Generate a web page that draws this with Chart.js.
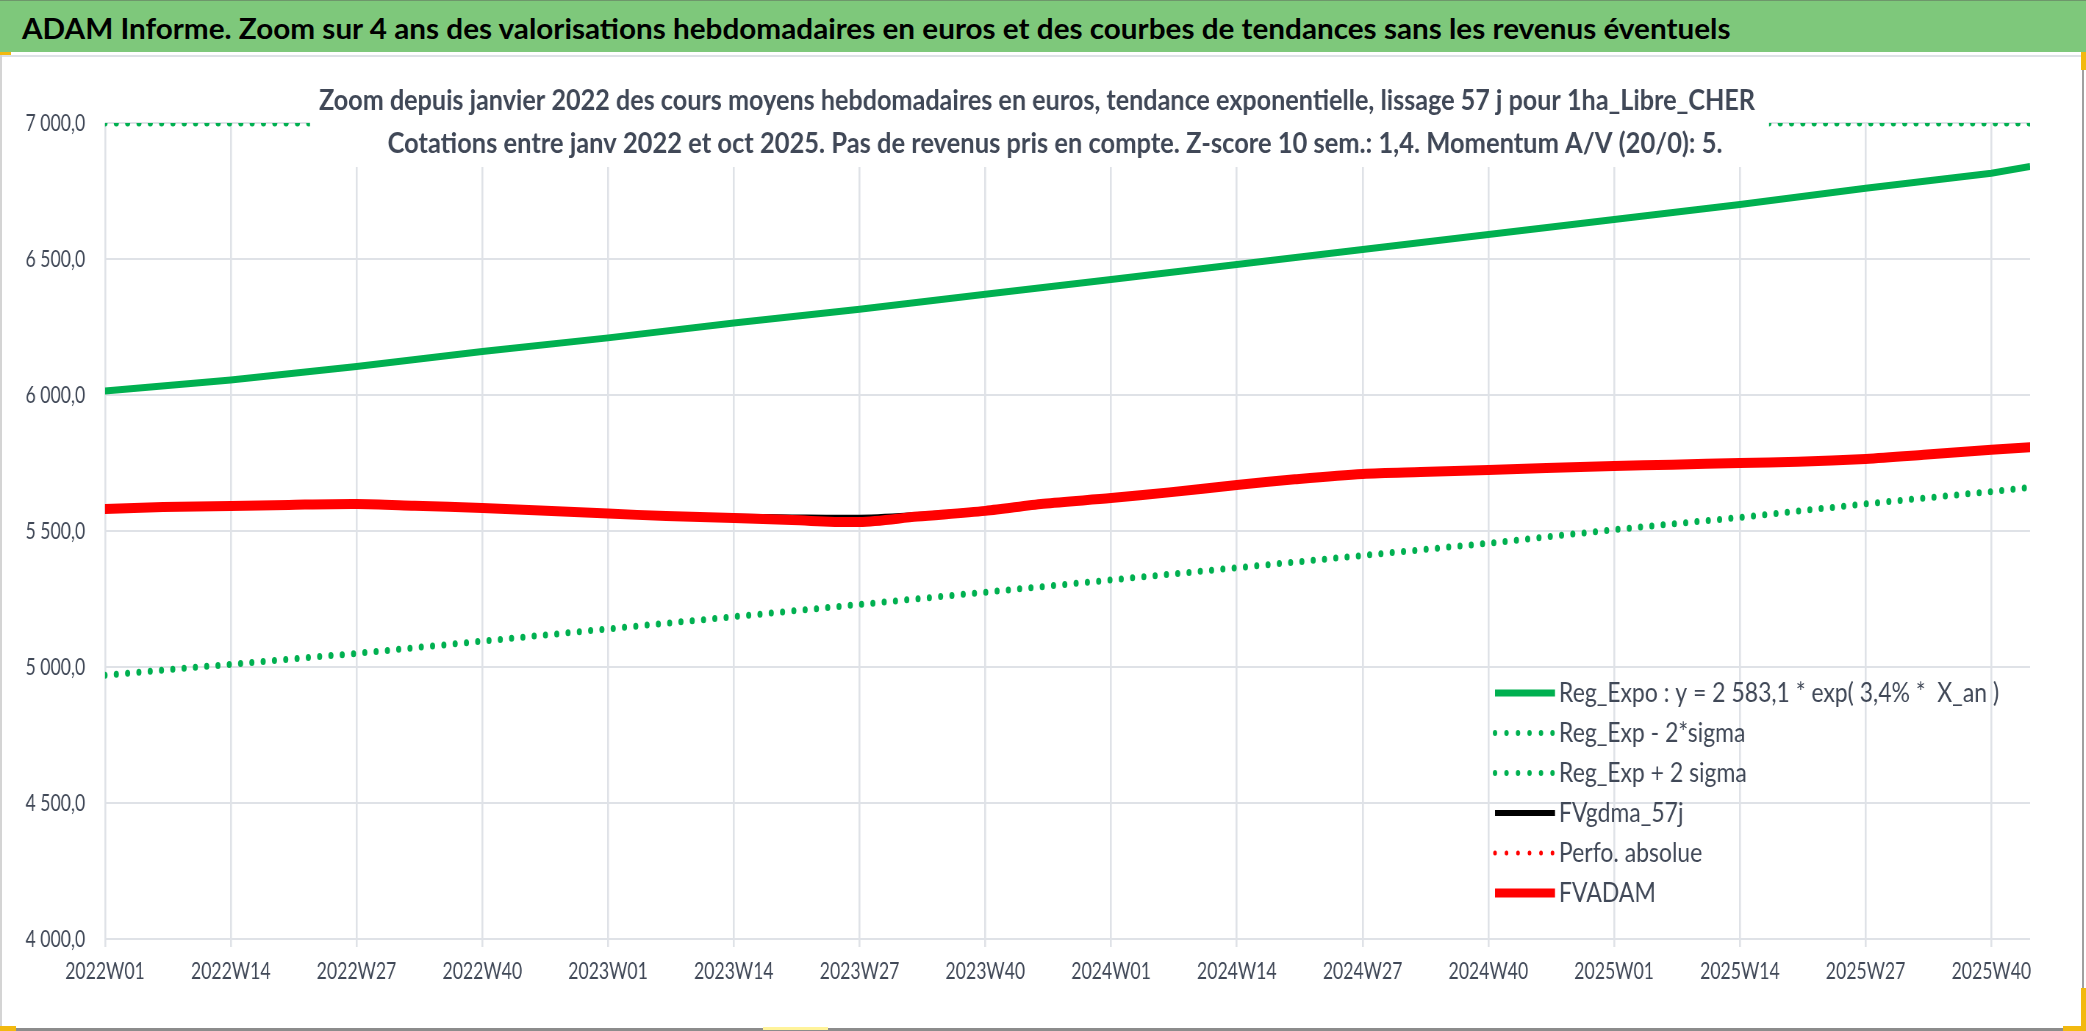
<!DOCTYPE html>
<html>
<head>
<meta charset="utf-8">
<script src="https://cdn.jsdelivr.net/npm/chart.js@4.4.1/dist/chart.umd.min.js"></script>
<style>
  html, body { margin: 0; padding: 0; background: #fff; overflow: hidden; }
  #page { position: relative; width: 2086px; height: 1031px; overflow: hidden; background: #fff; }
  #head { position: absolute; left: 0; top: 0; width: 2086px; height: 52px; background: #7ec87b; border-top: 1px solid #6e966b; box-sizing: border-box; }
  #head span { position: absolute; left: 22px; top: 27px; transform-origin: 0 50%; font: bold 28px Lato, sans-serif; color: #000; white-space: nowrap; line-height: 1; }
  #sep { position: absolute; left: 0; top: 55px; width: 2083px; height: 2px; background: #dde1e6; }
  #wrap { position: absolute; left: 0; top: 58px; width: 2834px; height: 968px; transform: scaleX(0.735); transform-origin: 0 0; }
  .b { position: absolute; }
</style>
</head>
<body>
<div id="page">
  <div id="head"><span id="headText">ADAM Informe. Zoom sur 4 ans des valorisations hebdomadaires en euros et des courbes de tendances sans les revenus éventuels</span></div>
  <div id="sep"></div>
  <div id="wrap"><canvas id="chart" width="2834" height="968"></canvas></div>
  <div class="b" style="left:0;top:52px;width:2px;height:979px;background:#d4d4d4"></div>
  <div class="b" style="left:2082px;top:52px;width:2px;height:979px;background:#a0a0a0"></div>
  <div class="b" style="left:0;top:1028px;width:2086px;height:3px;background:#8c8c8c"></div>
  <div class="b" style="left:0;top:52px;width:11px;height:3px;background:#f2b90f"></div>
  <div class="b" style="left:2081px;top:52px;width:5px;height:18px;background:#f2b90f"></div>
  <div class="b" style="left:2081px;top:988px;width:5px;height:43px;background:#f2b90f"></div>
  <div class="b" style="left:2063px;top:1026px;width:23px;height:5px;background:#f2b90f"></div>
  <div class="b" style="left:0;top:1026px;width:16px;height:5px;background:#f2b90f"></div>
  <div class="b" style="left:763px;top:1027px;width:65px;height:3px;background:#fff39a"></div>
</div>
<script>
// horizontal squeeze of the whole Excel picture
const S = 0.735;

// weeks counted from 2022W01 (index 0)
const weekYears = [2022, 2023, 2024, 2025];
const weeksPerYear = 52;
const xTickWeeks = [0, 13, 26, 39, 52, 65, 78, 91, 104, 117, 130, 143, 156, 169, 182, 195];
const lastWeek = 199;

// trend lines, read at every 13 weeks
const trendWeeks = [0, 13, 26, 39, 52, 65, 78, 91, 104, 117, 130, 143, 156, 169, 182, 195, 199];
const regExpo = [6015, 6055, 6105, 6160, 6210, 6265, 6315, 6370, 6425, 6480, 6535, 6590, 6645, 6700, 6760, 6815, 6840];
const regMinus = [4970, 5010, 5050, 5095, 5140, 5185, 5230, 5275, 5320, 5365, 5410, 5455, 5505, 5550, 5600, 5645, 5660];
const regPlus = [7000, 7000, 7000, 7000, 7000, 7000, 7000, 7000, 7000, 7000, 7000, 7000, 7000, 7000, 7000, 7000, 7000];

// smoothed values, read about every 6 weeks
const fvWeeks = [0, 6, 13, 19, 26, 32, 39, 45, 52, 58, 65, 71, 78, 84, 91, 97, 104, 110, 117, 123, 130, 136, 143, 149, 156, 162, 169, 175, 182, 188, 195, 199];
const fvAdam = [5581, 5588, 5592, 5596, 5599, 5593, 5585, 5575, 5564, 5555, 5548, 5540, 5533, 5553, 5574, 5600, 5621, 5642, 5669, 5690, 5710, 5717, 5724, 5732, 5739, 5744, 5750, 5755, 5765, 5780, 5799, 5808];
const fvGdma = [5581, 5588, 5592, 5596, 5599, 5593, 5585, 5575, 5564, 5557, 5551, 5548, 5547, 5557, 5576, 5600, 5621, 5642, 5669, 5690, 5710, 5717, 5724, 5732, 5739, 5744, 5750, 5755, 5765, 5780, 5799, 5808];
const perfoAbs = [];

const yTicks = [4000, 4500, 5000, 5500, 6000, 6500, 7000];

const titleLines = [
  'Zoom depuis janvier 2022 des cours moyens hebdomadaires en euros, tendance exponentielle, lissage 57 j pour 1ha_Libre_CHER',
  'Cotations entre janv 2022 et oct 2025. Pas de revenus pris en compte. Z-score 10 sem.: 1,4. Momentum A/V (20/0): 5.'
];

const GREEN = '#00b050';
const RED = '#ff0000';
const TEXT = '#404857';
const FONT = 'Lato, "Open Sans", sans-serif';
const DOT = [0, 15.4];

function weekLabel(i) {
  const y = weekYears[Math.floor(i / weeksPerYear)];
  const w = (i % weeksPerYear) + 1;
  return y + 'W' + String(w).padStart(2, '0');
}

function frNum(v) {
  const p = v.toFixed(1).split('.');
  return p[0].replace(/\B(?=(\d{3})+(?!\d))/g, ' ') + ',' + p[1];
}

function pts(xs, ys) {
  return ys.map((y, i) => ({ x: xs[i], y: y }));
}

// header: fit text to its width in the picture
const head = document.getElementById('headText');
head.style.transform = 'translateY(-50%) scaleX(' + (1708 / head.offsetWidth) + ')';

const titlePlugin = {
  id: 'titleBox',
  afterDatasetsDraw(chart) {
    const ctx = chart.ctx;
    ctx.save();
    ctx.fillStyle = '#ffffff';
    ctx.fillRect(310 / S, 0, (1769 - 310) / S, 109);
    ctx.fillStyle = TEXT;
    ctx.font = 'bold 28px ' + FONT;
    ctx.textAlign = 'center';
    ctx.textBaseline = 'alphabetic';
    const spec = [[1037, 52, 1436], [1055, 95, 1335]];
    titleLines.forEach((t, i) => {
      const w = ctx.measureText(t).width;
      const k = (spec[i][2] / S) / w;
      ctx.save();
      ctx.translate(spec[i][0] / S, spec[i][1]);
      ctx.scale(k, 1);
      ctx.fillText(t, 0, 0);
      ctx.restore();
    });
    ctx.restore();
  }
};

const legendPlugin = {
  id: 'sideLegend',
  afterDraw(chart) {
    const ctx = chart.ctx;
    const ds = chart.data.datasets;
    ctx.save();
    ctx.font = '26px ' + FONT;
    ctx.textBaseline = 'middle';
    ctx.textAlign = 'left';
    const k = (440 / S) / ctx.measureText(ds[0].label).width;
    ds.forEach((d, i) => {
      const y = 693 - 58 + i * 40;
      ctx.beginPath();
      ctx.strokeStyle = d.borderColor;
      ctx.lineWidth = d.legendWidth;
      ctx.lineCap = d.borderDash ? 'round' : 'butt';
      ctx.setLineDash(d.borderDash ? [0, 11.5 / S] : []);
      ctx.moveTo(1495 / S, y);
      ctx.lineTo(1555 / S, y);
      ctx.stroke();
      ctx.setLineDash([]);
      ctx.fillStyle = TEXT;
      ctx.save();
      ctx.translate(1559 / S, y + 1);
      ctx.scale(k, 1);
      ctx.fillText(d.label, 0, 0);
      ctx.restore();
    });
    ctx.restore();
  }
};

new Chart(document.getElementById('chart'), {
  type: 'line',
  data: {
    datasets: [
      { label: 'Reg_Expo : y = 2 583,1 * exp( 3,4% *  X_an )', data: pts(trendWeeks, regExpo), borderColor: GREEN, borderWidth: 7, legendWidth: 7, order: 5 },
      { label: 'Reg_Exp - 2*sigma', data: pts(trendWeeks, regMinus), borderColor: GREEN, borderWidth: 7, legendWidth: 6, borderDash: DOT, borderCapStyle: 'round', order: 4 },
      { label: 'Reg_Exp + 2 sigma', data: pts(trendWeeks, regPlus), borderColor: GREEN, borderWidth: 7, legendWidth: 6, borderDash: DOT, borderCapStyle: 'round', order: 3 },
      { label: 'FVgdma_57j', data: pts(fvWeeks, fvGdma), borderColor: '#000000', borderWidth: 7, legendWidth: 6, tension: 0.3, order: 2 },
      { label: 'Perfo. absolue', data: perfoAbs, borderColor: RED, borderWidth: 5, legendWidth: 5, borderDash: DOT, borderCapStyle: 'round', order: 1 },
      { label: 'FVADAM', data: pts(fvWeeks, fvAdam), borderColor: RED, borderWidth: 10, legendWidth: 9, borderCapStyle: 'round', tension: 0.3, order: 0 }
    ]
  },
  options: {
    responsive: false,
    animation: false,
    layout: { padding: { top: 65, right: 72, bottom: 0, left: 0 } },
    elements: { point: { radius: 0, hoverRadius: 0 } },
    plugins: { legend: { display: false }, title: { display: false }, tooltip: { enabled: false } },
    scales: {
      x: {
        type: 'linear',
        min: 0,
        max: lastWeek,
        afterFit(scale) { scale.height = 87; },
        afterBuildTicks(scale) { scale.ticks = xTickWeeks.map(v => ({ value: v })); },
        border: { display: false },
        grid: { color: '#dfe2e7', lineWidth: 2.6, tickLength: 8, drawTicks: true },
        ticks: {
          autoSkip: false,
          maxRotation: 0,
          padding: 10,
          color: TEXT,
          font: { family: FONT, size: 24 },
          callback: v => weekLabel(v)
        }
      },
      y: {
        min: yTicks[0],
        max: yTicks[yTicks.length - 1],
        afterFit(scale) { scale.width = 105 / S; },
        afterBuildTicks(scale) { scale.ticks = yTicks.map(v => ({ value: v })); },
        border: { display: false },
        grid: { color: '#dfe2e7', lineWidth: 2, drawTicks: false },
        ticks: {
          padding: 27,
          color: TEXT,
          font: { family: FONT, size: 24 },
          callback: v => frNum(v)
        }
      }
    }
  },
  plugins: [titlePlugin, legendPlugin]
});
</script>
</body>
</html>
